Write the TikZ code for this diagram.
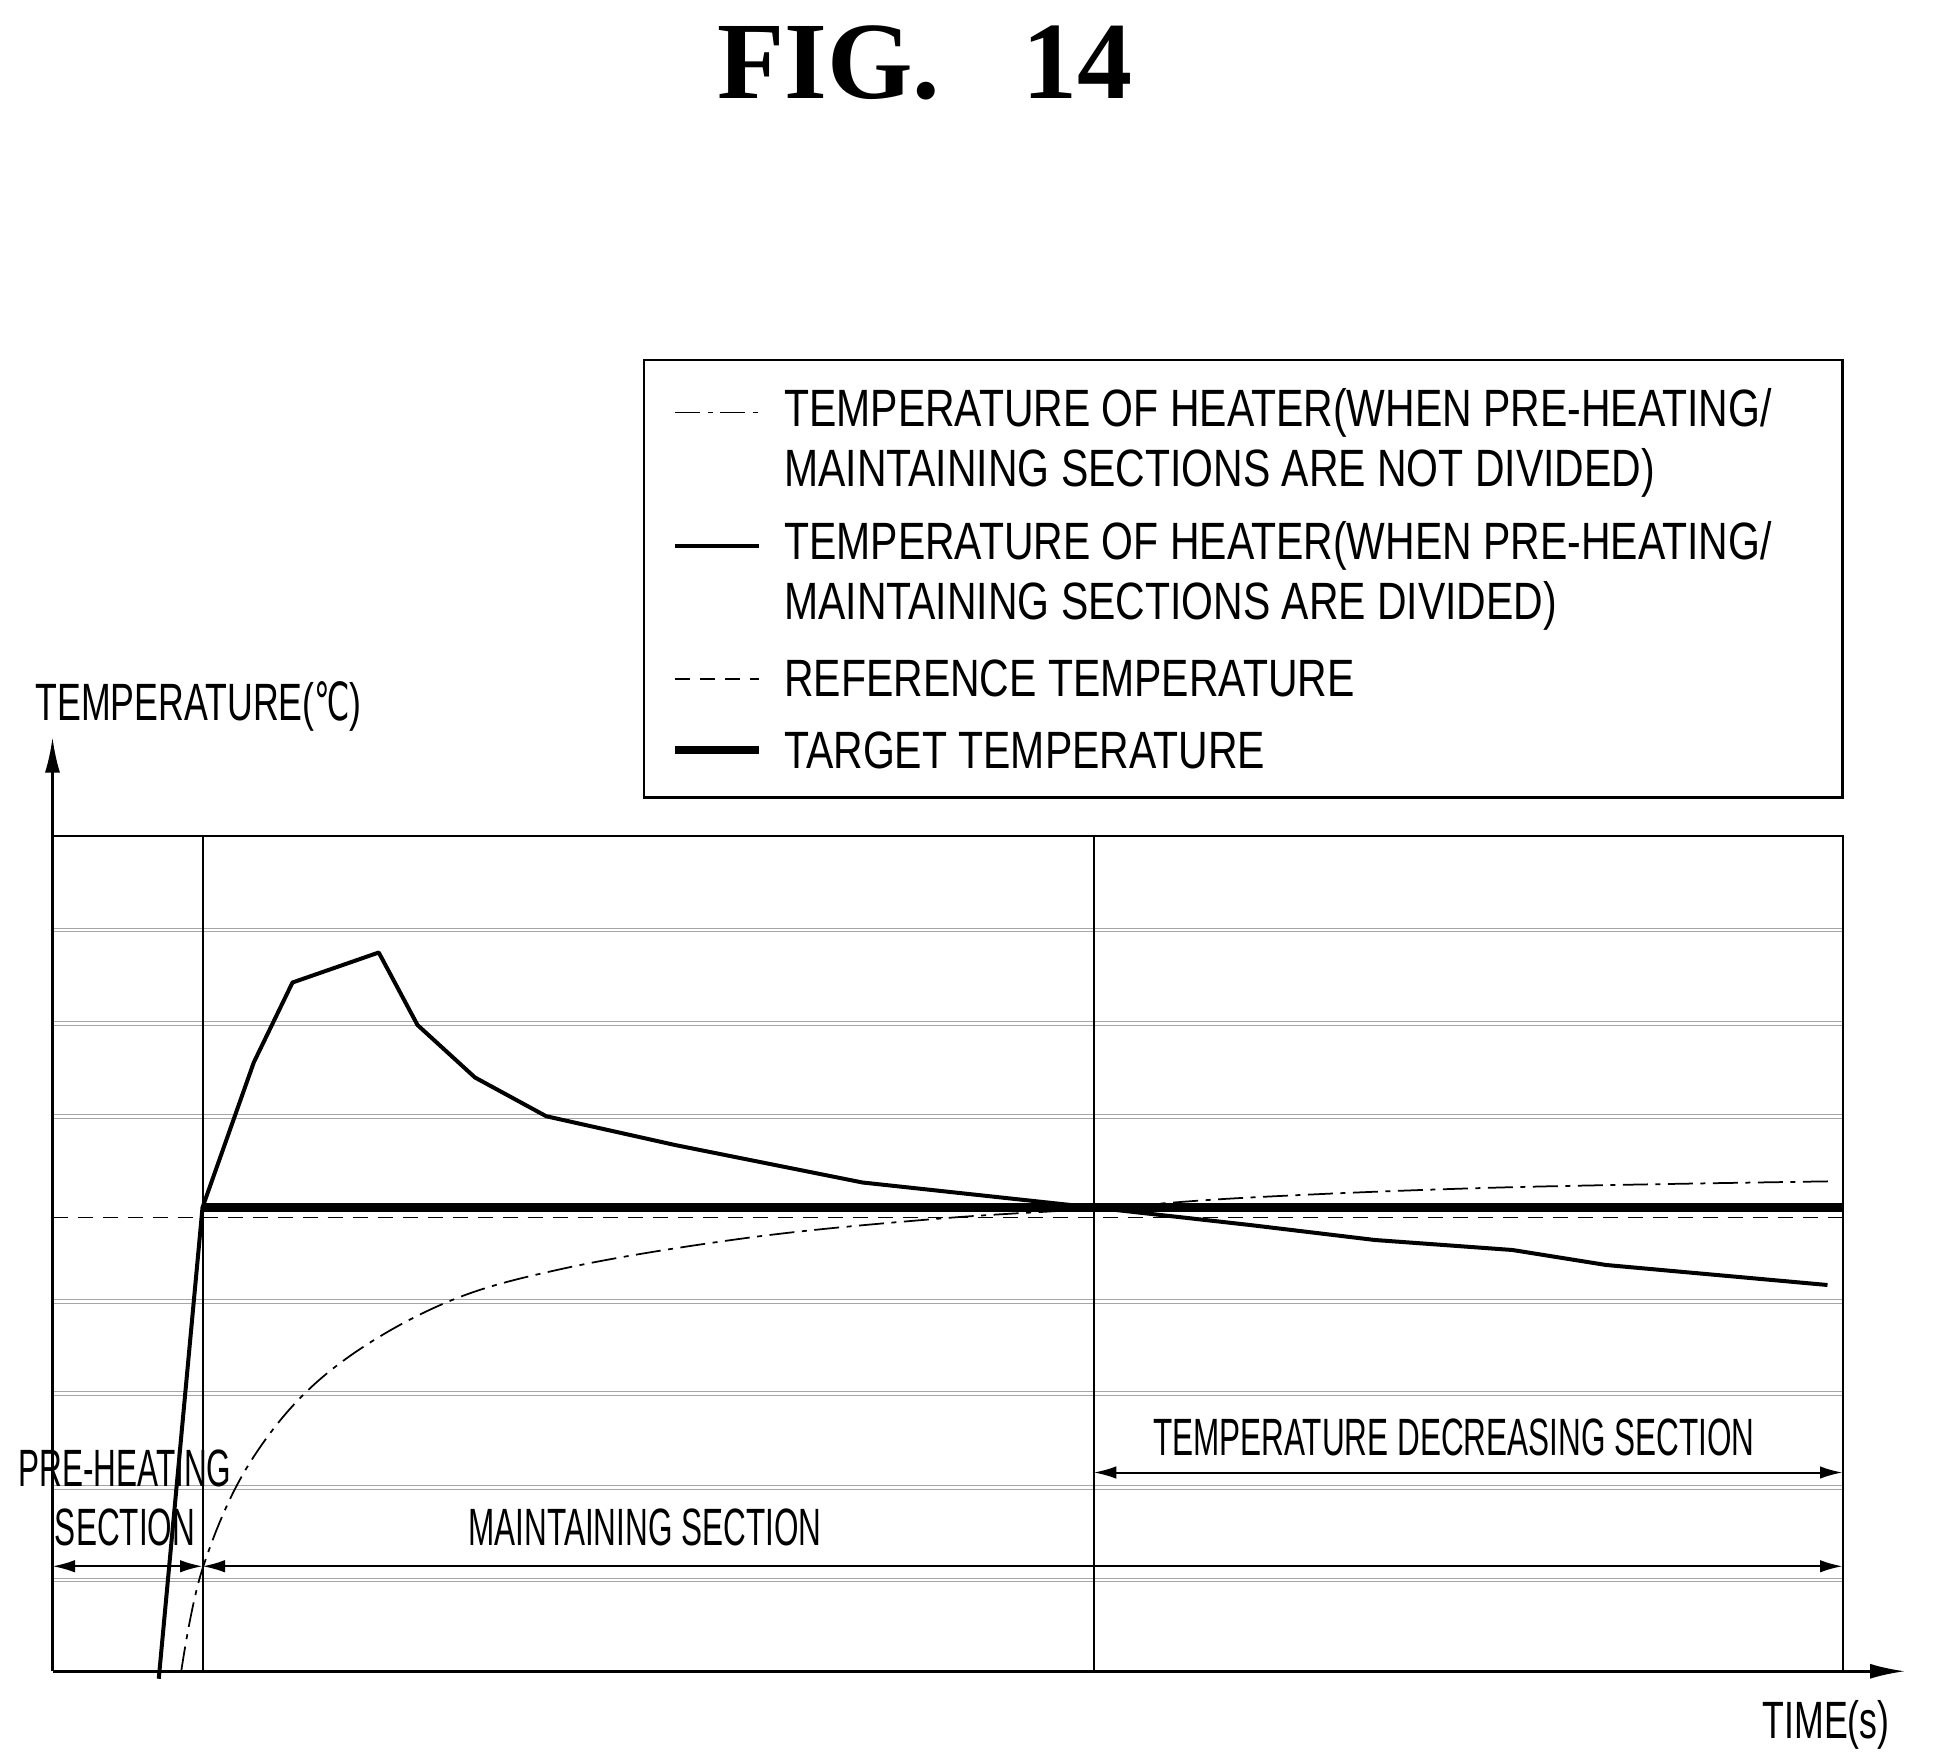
\documentclass[tikz,border=0pt]{standalone}
\usepackage{fontspec}
\setmainfont{Liberation Serif}
\newfontfamily\lab[FakeStretch=0.78]{Liberation Sans}
\newfontfamily\narrowlab[FakeStretch=0.6]{Liberation Sans}
\newfontfamily\midlab[FakeStretch=0.68]{Liberation Sans}
\newfontfamily\djfont[FakeStretch=0.6]{DejaVu Sans}
\usetikzlibrary{arrows.meta}
\begin{document}
\begin{tikzpicture}[x=0.5pt,y=-0.5pt,
  lbl/.style={font=\lab\fontsize{21}{24}\selectfont,inner sep=0},
  nlbl/.style={font=\narrowlab\fontsize{21}{24}\selectfont,inner sep=0},
  mlbl/.style={font=\midlab\fontsize{21}{24}\selectfont,inner sep=0},
  grid/.style={gray!70,line width=0.4pt},
  dbl/.style={line width=0.8pt,{Latex[length=9pt,width=5pt]}-{Latex[length=9pt,width=5pt]}}]
\useasboundingbox (0,0) rectangle (1560,1408);
\node[font=\bfseries\fontsize{44}{50}\selectfont] (title) at (740,50) {FIG.\ \ \ 14};
% grid
\foreach \y in {744,819,893,1041,1115,1190,1264}{
  \draw[grid] (42,\y-1.5) -- (1474,\y-1.5); \draw[grid] (42,\y+1.5) -- (1474,\y+1.5);}
\draw[line width=0.8pt] (42,669) -- (1474,669) -- (1474,1337);
\draw[line width=0.8pt] (162,669) -- (162,1337);
\draw[line width=0.8pt] (875,669) -- (875,1337);
% axes
\coordinate (o) at (42,1337);
\coordinate (ytop) at (42,590);
\coordinate (xend) at (1524,1337);
\draw[line width=1pt,-{Latex[length=14pt,width=6pt]}] (o) -- (ytop);
\draw[line width=1pt,-{Latex[length=14pt,width=6pt]}] (o) -- (xend);
\node[mlbl,anchor=west] (ylab) at (28,565) {TEMPERATURE({\djfont ℃})};
\node[mlbl,anchor=east] (xlab) at (1512,1380) {TIME(s)};
% reference & target
\draw[line width=0.6pt,dash pattern=on 6pt off 4pt] (42,974) -- (1474,974);
\draw[line width=3.5pt] (162,966) -- (1474,966);
% curves
\draw[line width=1.6pt,line join=round] (127,1343) -- (162,966) -- (203,850) -- (234,786) -- (303,762) -- (334,820) -- (380,862) -- (437,893) -- (540,916) -- (690,946) -- (875,966) -- (1000,980) -- (1100,992) -- (1210,1000) -- (1285,1012) -- (1462,1028);
\draw[line width=0.7pt,dash pattern=on 10pt off 3pt on 2pt off 3pt] plot[smooth,tension=0.6] coordinates {(145,1337) (162,1255) (200,1170) (260,1100) (350,1045) (450,1015) (600,990) (750,975) (875,967) (1000,958) (1200,950) (1468,945)};
% sections
\coordinate (a1) at (42,1253); \coordinate (a2) at (162,1253); \coordinate (a3) at (1474,1253);
\coordinate (b1) at (875,1178); \coordinate (b2) at (1474,1178);
\draw[dbl] (a1) -- (a2);
\draw[dbl] (a2) -- (a3);
\draw[dbl] (b1) -- (b2);
\node[nlbl] (pre1) at (100,1175) {PRE-HEATING};
\node[nlbl] (pre2) at (100,1222) {SECTION};
\node[nlbl] (main) at (516,1222) {MAINTAINING SECTION};
\node[nlbl] (dec) at (1163,1150) {TEMPERATURE DECREASING SECTION};
% legend
\draw[line width=1pt] (515,288) rectangle (1474,638);
\draw[line width=0.7pt,dash pattern=on 10pt off 3pt on 2pt off 3pt] (540,330) -- (607,330);
\draw[line width=1.6pt] (540,437) -- (607,437);
\draw[line width=0.6pt,dash pattern=on 6pt off 4pt] (540,543) -- (607,543);
\draw[line width=3.5pt] (540,600) -- (607,600);
\node[lbl,anchor=west] (l1) at (627,330) {TEMPERATURE OF HEATER(WHEN PRE-HEATING/};
\node[lbl,anchor=west] (l1b) at (627,378) {MAINTAINING SECTIONS ARE NOT DIVIDED)};
\node[lbl,anchor=west] (l2) at (627,437) {TEMPERATURE OF HEATER(WHEN PRE-HEATING/};
\node[lbl,anchor=west] (l2b) at (627,485) {MAINTAINING SECTIONS ARE DIVIDED)};
\node[lbl,anchor=west] (l3) at (627,543) {REFERENCE TEMPERATURE};
\node[lbl,anchor=west] (l4) at (627,600) {TARGET TEMPERATURE};
\end{tikzpicture}
\end{document}
